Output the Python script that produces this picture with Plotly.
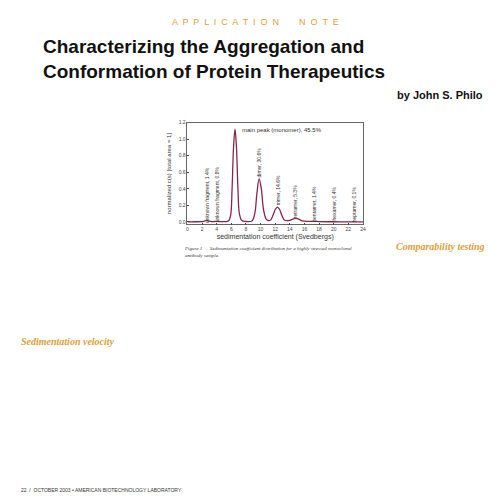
import plotly.graph_objects as go

# c(s) distribution
sed_coef = [0, 1, 2, 2.3, 2.6, 2.9, 3.3, 3.7, 4.0, 4.3, 5, 5.6, 5.9, 6.1, 6.3, 6.5, 6.7, 6.9, 7.1, 7.4,
            8, 8.8, 9.2, 9.5, 9.8, 10.1, 10.4, 10.8, 11.3, 11.7, 12.0, 12.3, 12.6, 12.9, 13.3, 14.0,
            14.4, 14.8, 15.2, 15.7, 16.5, 17.3, 18, 20, 22, 24]
c_s = [0.002, 0.002, 0.004, 0.01, 0.016, 0.01, 0.004, 0.005, 0.007, 0.005, 0.003, 0.01, 0.08, 0.4,
       0.9, 1.12, 0.9, 0.4, 0.1, 0.02, 0.005, 0.01, 0.1, 0.35, 0.52, 0.4, 0.15, 0.03, 0.02, 0.08,
       0.15, 0.18, 0.15, 0.08, 0.02, 0.02, 0.035, 0.042, 0.035, 0.012, 0.006, 0.008, 0.004, 0.002,
       0.001, 0.0]

peak_labels = ["unknown fragment, 1.4%", "unknown fragment, 0.8%", "dimer, 30.6%", "trimer, 14.6%",
               "tetramer, 5.3%", "pentamer, 1.4%", "hexamer, 0.4%", "heptamer, 0.1%"]
label_x = [2.6, 4.0, 9.8, 12.3, 14.8, 17.3, 20.0, 22.7]
label_y = [0.33, 0.33, 0.72, 0.39, 0.25, 0.22, 0.22, 0.22]

fig = go.Figure()
fig.add_trace(go.Scatter(x=sed_coef, y=c_s, mode="lines", line=dict(color="#8b2346", width=1.3),
                         line_shape="spline", showlegend=False))

for t, x, y in zip(peak_labels, label_x, label_y):
    fig.add_annotation(x=x, y=y, text=t, textangle=-90, showarrow=False,
                       font=dict(size=5, color="#333"))
fig.add_annotation(x=7.2, y=1.115, text="main peak (monomer), 45.5%", showarrow=False, xanchor="left",
                   font=dict(size=6, color="#333"))

fig.update_xaxes(domain=[0.362, 0.718], range=[0, 24], dtick=2, ticks="inside", ticklen=2,
                 showgrid=False, showline=True, mirror=True, linecolor="#666", linewidth=0.6,
                 tickfont=dict(size=5, color="#444"),
                 title=dict(text="sedimentation coefficient (Svedbergs)", font=dict(size=7, color="#333"), standoff=2))
fig.update_yaxes(domain=[0.568, 0.774], range=[-0.03, 1.2], dtick=0.2, tickformat=".1f", ticks="inside",
                 ticklen=2, showgrid=False, zeroline=False, showline=True, mirror=True, linecolor="#666",
                 linewidth=0.6, tickfont=dict(size=5, color="#444"),
                 title=dict(text="normalized c(s) [total area = 1]", font=dict(size=6, color="#333"), standoff=6))

page = dict(xref="paper", yref="paper", showarrow=False, yanchor="middle")
fig.add_annotation(**page, x=0.5, y=0.978, text="A  P  P  L  I  C  A  T  I  O  N        N  O  T  E",
                   font=dict(size=9, color="#d9a13a", family="Arial"))
fig.add_annotation(**page, x=0.065, y=0.902, xanchor="left", align="left",
                   text="<b>Characterizing the Aggregation and<br>Conformation of Protein Therapeutics</b>",
                   font=dict(size=19, color="#111", family="Arial"))
fig.add_annotation(**page, x=0.965, y=0.829, xanchor="right",
                   text="<b>by John S. Philo</b>", font=dict(size=11, color="#111", family="Arial"))
fig.add_annotation(**page, x=0.35, y=0.513, xanchor="left", align="left",
                   text="<i>Figure 1      Sedimentation coefficient distribution for a highly stressed monoclonal<br>antibody sample.</i>",
                   font=dict(size=5, color="#333", family="Liberation Serif"))
fig.add_annotation(**page, x=0.78, y=0.524, xanchor="left",
                   text="<b><i>Comparability testing</i></b>",
                   font=dict(size=10, color="#d9a13a", family="Liberation Serif"))
fig.add_annotation(**page, x=0.02, y=0.331, xanchor="left",
                   text="<b><i>Sedimentation velocity</i></b>",
                   font=dict(size=10, color="#d9a13a", family="Liberation Serif"))
fig.add_annotation(**page, x=0.02, y=0.03, xanchor="left",
                   text="22  /  OCTOBER 2003 • AMERICAN BIOTECHNOLOGY LABORATORY",
                   font=dict(size=5, color="#333", family="Arial"))

fig.update_layout(width=497, height=497, margin=dict(l=0, r=0, t=0, b=0),
                  paper_bgcolor="white", plot_bgcolor="white", font=dict(family="Arial"))
fig.write_html("out.html")
